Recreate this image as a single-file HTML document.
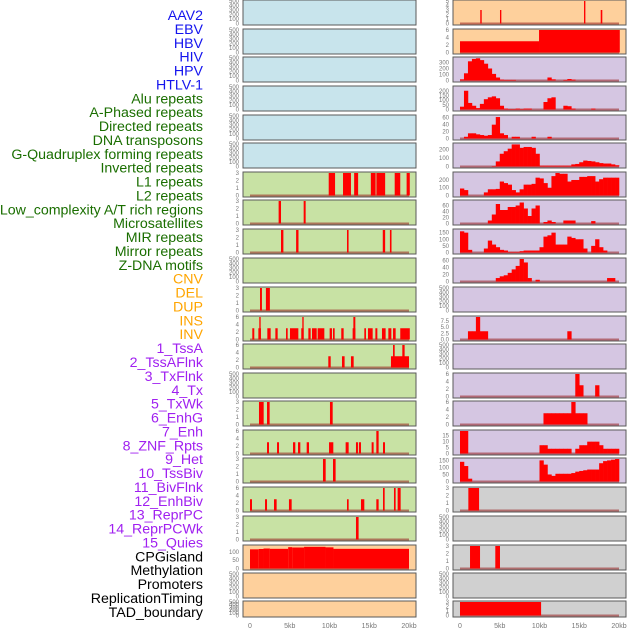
<!DOCTYPE html>
<html><head><meta charset="utf-8"><style>
html,body{margin:0;padding:0;background:#fff;width:630px;height:630px;overflow:hidden}
svg{display:block;font-family:"Liberation Sans",sans-serif}
</style></head><body>
<svg id="chart" width="630" height="630" viewBox="0 0 630 630" xmlns="http://www.w3.org/2000/svg">
<g id="labels"></g>
<g id="panels"></g>
<g id="xaxes"></g>
</svg>
<script>
const trackLabels = ["AAV2","EBV","HBV","HIV","HPV","HTLV-1","Alu repeats","A-Phased repeats","Directed repeats","DNA transposons","G-Quadruplex forming repeats","Inverted repeats","L1 repeats","L2 repeats","Low_complexity A/T rich regions","Microsatellites","MIR repeats","Mirror repeats","Z-DNA motifs","CNV","DEL","DUP","INS","INV","1_TssA","2_TssAFlnk","3_TxFlnk","4_Tx","5_TxWk","6_EnhG","7_Enh","8_ZNF_Rpts","9_Het","10_TssBiv","11_BivFlnk","12_EnhBiv","13_ReprPC","14_ReprPCWk","15_Quies","CPGisland","Methylation","Promoters","ReplicationTiming","TAD_boundary"];
const labelGroups = ["v","v","v","v","v","v","r","r","r","r","r","r","r","r","r","r","r","r","r","c","c","c","c","c","h","h","h","h","h","h","h","h","h","h","h","h","h","h","h","k","k","k","k","k"];
const xTickLabels = ["0","5kb","10kb","15kb","20kb"];
const xTickValues = [0,5,10,15,20];
const T500 = [0,100,200,300,400,500];
const leftBg = ["b","b","b","b","b","b","g","g","g","g","g","g","g","g","g","g","g","g","g","o","o","o"];
const leftYmax = [500,500,500,500,500,500,3,3,3,500,3,6,6,500,3,6,3,6,3,135,500,500];
const leftTicks = [T500,T500,T500,T500,T500,T500,[0,1,2,3],[0,1,2,3],[0,1,2,3],T500,[0,1,2,3],[0,2,4,6],[0,2,4,6],T500,[0,1,2,3],[0,2,4,6],[0,1,2,3],[0,2,4,6],[0,1,2,3],[0,50,100],T500,T500];
const leftSegs = [[],[],[],[],[],[],
 [[9.9,10.7,3],[11.7,12.7,3],[13.1,13.6,3],[15.2,15.8,3],[15.9,17.0,3],[18.2,18.9,3],[19.7,20.1,3]],
 [[3.6,3.9,3],[6.75,7.0,3]],
 [[3.9,4.2,3],[5.8,6.1,3],[12.2,12.4,3],[16.7,17.0,3],[17.6,17.8,3]],
 [],
 [[1.26,1.5,3],[2.0,2.5,3]],
 [[0.29,0.54,3],[1.05,1.38,3],[1.17,1.34,6],[2.18,2.6,3],[3.19,3.48,3],[4.53,4.74,3],[5.03,6.08,3],[6.45,6.75,3],[6.58,6.75,6],[7.34,7.63,3],[7.8,8.39,3],[8.51,9.35,3],[10.02,10.31,3],[10.44,10.65,3],[11.48,11.78,3],[12.91,13.25,3],[13.0,13.25,6],[14.38,14.59,3],[14.84,15.43,3],[15.77,16.02,3],[16.6,17.06,3],[17.4,17.78,3],[17.99,18.32,3],[18.9,20.1,3]],
 [[9.85,10.15,3],[11.57,11.9,3],[12.7,13.04,3],[17.73,20.0,3],[17.99,18.2,6],[19.16,19.45,6]],
 [],
 [[1.13,1.72,3],[2.14,2.47,3],[10.06,10.4,3]],
 [[2.14,2.39,3],[3.4,3.65,3],[5.41,5.7,3],[6.04,6.33,3],[7.13,7.42,3],[9.94,10.48,3],[12.03,12.41,3],[13.33,13.58,3],[13.7,13.96,3],[15.3,15.55,3],[15.89,16.18,6],[16.73,16.98,3]],
 [[9.18,9.52,3],[10.44,10.77,3]],
 [[0,0.25,3],[1.89,2.14,3],[3.02,3.35,3],[4.9,5.24,3],[12.2,12.41,3],[13.96,14.38,3],[15.89,16.18,3],[16.73,16.94,6],[18.11,18.32,6],[18.57,18.95,6]],
 [[13.33,13.66,3]],
 [[0,1.1,115],[1.1,1.7,117],[1.7,2.5,120],[2.5,4.8,118],[4.8,5.3,128],[5.3,6.8,126],[6.8,9.5,130],[9.5,10.5,127],[10.5,20,118]],
 [],[]];
const rightBg = ["o","o","p","p","p","p","p","p","p","p","p","p","p","p","p","p","p","k","k","k","k","k"];
const rightYmax = [5,6,375,240,65,265,290,75,170,65,500,9,500,6,6,19,160,3,500,3,500,3];
const rightTicks = [[0,1,2,3,4,5],[0,2,4,6],[0,100,200,300],[0,50,100,150,200],[0,20,40,60],[0,100,200],[0,100,200],[0,20,40,60],[0,50,100,150],[0,20,40,60],T500,[0,2.5,5,7.5],T500,[0,2,4,6],[0,2,4,6],[0,5,10,15],[0,50,100,150],[0,1,2,3],T500,[0,1,2,3],T500,[0,1,2,3]];
const rightSegs = [
 [[2.55,2.73,3],[5.03,5.2,3],[15.6,15.77,5],[17.7,17.9,3]],
 [[0,9.94,3],[9.94,20.1,6]],
 [],[],[],[],[],[],[],[],[],[],[],[],[],[],[],
 [[1.05,2.4,3]],
 [],
 [[1.26,2.52,3],[4.44,5.03,3]],
 [],
 [[0,10.2,3]]];
const rightBins = {
 2:[20,120,320,360,370,340,280,200,110,50,15,10,10,10,0,0,0,0,0,0,0,0,50,20,0,0,10,25,15,0,0,0,0,0,0,0,0,0,0,0],
 3:[30,200,70,40,15,60,110,130,140,120,40,10,5,5,10,5,10,10,0,0,0,80,120,130,0,0,40,35,10,0,0,0,0,10,0,0,0,0,0,0],
 4:[0,5,15,15,12,10,8,10,40,62,15,10,0,5,5,0,0,0,5,0,0,0,5,0,0,0,0,0,0,0,0,0,0,0,0,0,0,0,0,0],
 5:[0,0,0,0,0,0,0,0,5,60,150,180,210,260,260,220,230,230,220,150,10,10,10,10,10,10,10,10,25,30,50,70,65,60,50,40,35,35,25,15],
 6:[90,70,0,0,0,0,40,80,80,85,180,160,140,70,40,80,140,140,150,230,220,160,100,250,290,280,280,180,200,200,240,240,250,250,180,210,230,230,230,230],
 7:[0,0,0,0,0,0,0,10,30,65,45,45,55,55,60,70,50,25,50,60,0,5,10,5,0,0,10,10,10,0,0,0,0,8,0,0,0,0,0,0],
 8:[160,150,20,0,0,0,30,90,60,40,20,15,5,5,5,10,15,15,15,15,40,120,130,150,60,60,60,120,110,100,100,30,0,50,100,40,15,0,0,0],
 9:[0,0,0,0,0,0,0,0,0,10,15,18,25,35,45,65,55,10,0,5,0,0,0,0,0,0,0,0,0,0,0,0,0,0,0,0,0,10,10,0],
 11:[0,0,3.3,3.3,9,3.3,3.3,0,0,0,0,0,0,0,0,0,0,0,0,0,0,0,0,0,0,0,0,3.3,0,0,0,0,0,0,0,0,0,0,0,0],
 13:[0,0,0,0,0,0,0,0,0,0,0,0,0,0,0,0,0,0,0,0,0,0,0,0,0,0,0,0,0,6,3,0,0,0,3,0,0,0,0,0],
 14:[0,0,0,0,0,0,0,0,0,0,0,0,0,0,0,0,0,0,0,0,0,3,3,3,3,3,3,3,6,3,3,3,0,0,0,0,0,0,0,0],
 15:[19,19,0,0,0,0,0,0,0,0,0,0,0,0,0,0,0,0,0,0,7,7,4,4,4,4,4,4,0,4,7,7,10,10,10,7,4,4,4,4],
 16:[140,110,20,0,0,0,0,0,0,0,0,0,0,0,0,0,0,0,0,0,150,120,50,40,55,55,55,55,60,70,75,80,85,85,85,130,145,150,155,160]
};

const NS="http://www.w3.org/2000/svg";
const colors={v:"#1414ee",r:"#1a6e00",c:"#ffa500",h:"#a020f0",k:"#000000"};
const bgs={b:"#c8e4ec",g:"#c8e2a4",o:"#fed09c",p:"#d5c6e2",k:"#d0d0d0"};
const tops=[0,29,57,86,115,143,172,200,229,258,287,316,344,373,401,430,458,487,516,545,573,601];
function el(tag,attrs,parent){const e=document.createElementNS(NS,tag);for(const k in attrs)e.setAttribute(k,attrs[k]);parent.appendChild(e);return e;}

const gl=document.getElementById('labels');
trackLabels.forEach((t,i)=>{
  const e=el('text',{x:203,y:20+i*13.88,'text-anchor':'end','font-size':'14.2',fill:colors[labelGroups[i]]},gl);
  e.textContent=t;
  
  
});

const gp=document.getElementById('panels');
function drawPanel(colX, row, bg, ymax, ticks, segs, bins){
  const top=tops[row];
  const h=row===21?16:25;
  const x0=colX, w=173;
  const xs=kb=>x0+7+kb*7.95;
  const ys=v=>top+h-1.5-v/ymax*(h-2.5);
  const g=el('g',{},gp);
  
  
  el('rect',{x:x0,y:top,width:w,height:h,fill:bgs[bg],stroke:'#5a5a5a','stroke-width':1},g);
  ticks.forEach(t=>{
    const tx=el('text',{x:x0-4,y:ys(t)+2,'text-anchor':'end','font-size':'6',fill:'#777'},g);
    tx.textContent=(ymax===9)?t.toFixed(1):String(t);
    
    
  });
  if(ymax!==500){
    const b=el('line',{x1:xs(0),x2:xs(20),y1:ys(0),y2:ys(0),stroke:'rgba(150,30,30,0.55)','stroke-width':2},g);
    
    
  }
  (segs||[]).forEach(s=>{
    const r=el('rect',{x:xs(s[0]),y:ys(s[2]),width:Math.max(1,xs(s[1])-xs(s[0])),height:ys(0)-ys(s[2]),fill:'#ff0000'},g);
    
    
  });
  if(bins){
    bins.forEach((v,i)=>{
      if(v<=0)return;
      const r=el('rect',{x:xs(i*0.5),y:ys(v),width:xs(0.5)-xs(0)+0.3,height:ys(0)-ys(v),fill:'#ff0000'},g);
      
      
    });
  }
}
for(let r=0;r<22;r++){
  drawPanel(243,r,leftBg[r],leftYmax[r],leftTicks[r],leftSegs[r],null);
  drawPanel(453,r,rightBg[r],rightYmax[r],rightTicks[r],rightSegs[r],rightBins[r]);
}
const gx=document.getElementById('xaxes');
[243,453].forEach(cx=>{
  xTickValues.forEach((v,i)=>{
    const t=el('text',{x:cx+7+v*7.95,y:628,'text-anchor':'middle','font-size':'7',fill:'#777'},gx);
    t.textContent=xTickLabels[i];
    
    
  });
});
</script>
</body></html>
